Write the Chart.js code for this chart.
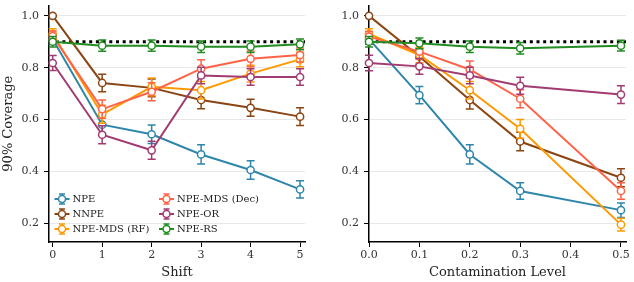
<!DOCTYPE html>
<html>
<head>
<meta charset="utf-8">
<script src="https://cdn.jsdelivr.net/npm/chart.js@4"></script>
<style>
  body { margin: 0; background: #fff; }
  #wrap { position: relative; width: 634px; height: 282px; }
  .box { position: absolute; top: 0; width: 317px; height: 282px; }
</style>
</head>
<body>
<div id="wrap">
  <div class="box" style="left:0"><canvas id="left" width="317" height="282"></canvas></div>
  <div class="box" style="left:317px"><canvas id="right" width="317" height="282"></canvas></div>
</div>
<script>
// --- data ---
const seriesNames = ["NPE", "NNPE", "NPE-MDS (RF)", "NPE-MDS (Dec)", "NPE-OR", "NPE-RS"];
const seriesColors = ["#2E86AB", "#8B4513", "#FF9900", "#FF6347", "#A23B72", "#228B22"];
const targetCoverage = 0.9;
const yTicks = [0.2, 0.4, 0.6, 0.8, 1.0];

// left panel: shift
const shiftLevels = [0, 1, 2, 3, 4, 5];
const shiftTicks = [0, 1, 2, 3, 4, 5];
const shiftNPE     = [0.91, 0.58, 0.543, 0.465, 0.405, 0.33];
const shiftNNPE    = [1.0, 0.741, 0.722, 0.675, 0.645, 0.611];
const shiftRF      = [0.93, 0.62, 0.726, 0.713, 0.777, 0.832];
const shiftDec     = [0.922, 0.64, 0.707, 0.796, 0.834, 0.849];
const shiftOR      = [0.818, 0.541, 0.481, 0.77, 0.764, 0.764];
const shiftRS      = [0.90, 0.885, 0.885, 0.881, 0.881, 0.89];
const shiftErrNPE  = [0.02, 0.033, 0.036, 0.037, 0.036, 0.033];
const shiftErrNNPE = [0.003, 0.034, 0.034, 0.034, 0.033, 0.034];
const shiftErrRF   = [0.02, 0.035, 0.034, 0.034, 0.032, 0.028];
const shiftErrDec  = [0.02, 0.035, 0.035, 0.035, 0.03, 0.027];
const shiftErrOR   = [0.029, 0.035, 0.035, 0.032, 0.032, 0.032];
const shiftErrRS   = [0.02, 0.022, 0.022, 0.022, 0.022, 0.021];

// right panel: contamination
const contamLevels = [0.0, 0.1, 0.2, 0.3, 0.5];
const contamTicks = [0.0, 0.1, 0.2, 0.3, 0.4, 0.5];
const contamNPE     = [0.91, 0.694, 0.465, 0.324, 0.25];
const contamNNPE    = [1.0, 0.843, 0.675, 0.515, 0.375];
const contamRF      = [0.93, 0.849, 0.713, 0.564, 0.194];
const contamDec     = [0.92, 0.862, 0.793, 0.68, 0.324];
const contamOR      = [0.818, 0.805, 0.77, 0.73, 0.696];
const contamRS      = [0.90, 0.894, 0.881, 0.875, 0.885];
const contamErrNPE  = [0.02, 0.033, 0.037, 0.032, 0.028];
const contamErrNNPE = [0.003, 0.03, 0.035, 0.036, 0.035];
const contamErrRF   = [0.02, 0.03, 0.034, 0.036, 0.025];
const contamErrDec  = [0.02, 0.029, 0.033, 0.035, 0.032];
const contamErrOR   = [0.03, 0.03, 0.032, 0.033, 0.034];
const contamErrRS   = [0.02, 0.021, 0.022, 0.022, 0.021];

const serif = "'DejaVu Serif', serif";

// error bars drawn under each series' markers
const errorBars = {
  id: 'errorBars',
  beforeDatasetDraw(chart, args) {
    const ds = chart.data.datasets[args.index];
    if (!ds.errors) return;
    const ctx = chart.ctx, x = chart.scales.x, y = chart.scales.y;
    ctx.save();
    ctx.strokeStyle = ds.borderColor;
    ctx.lineWidth = 1.5;
    ds.data.forEach((p, i) => {
      const e = ds.errors[i];
      const px = x.getPixelForValue(p.x);
      const y1 = y.getPixelForValue(p.y + e);
      const y2 = y.getPixelForValue(p.y - e);
      ctx.beginPath();
      ctx.moveTo(px, y1); ctx.lineTo(px, y2);
      ctx.moveTo(px - 4, y1); ctx.lineTo(px + 4, y1);
      ctx.moveTo(px - 4, y2); ctx.lineTo(px + 4, y2);
      ctx.stroke();
    });
    ctx.restore();
  }
};

// legend inside the left panel, two columns
const innerLegend = {
  id: 'innerLegend',
  afterDraw(chart) {
    if (!chart.options.plugins.innerLegend.show) return;
    const ctx = chart.ctx, a = chart.chartArea;
    const cols = [a.left + 13, a.left + 117.5];
    const rows = [a.bottom - 43, a.bottom - 28, a.bottom - 13];
    ctx.save();
    ctx.font = "10px " + serif;
    ctx.textBaseline = 'middle';
    seriesNames.forEach((name, i) => {
      const cx = cols[Math.floor(i / 3)], cy = rows[i % 3];
      const c = seriesColors[i];
      ctx.strokeStyle = c;
      ctx.lineWidth = 2;
      ctx.beginPath(); ctx.moveTo(cx - 7.5, cy); ctx.lineTo(cx + 7.5, cy); ctx.stroke();
      ctx.lineWidth = 1.5;
      ctx.beginPath();
      ctx.moveTo(cx, cy - 5); ctx.lineTo(cx, cy + 5);
      ctx.moveTo(cx - 3, cy - 5); ctx.lineTo(cx + 3, cy - 5);
      ctx.moveTo(cx - 3, cy + 5); ctx.lineTo(cx + 3, cy + 5);
      ctx.stroke();
      ctx.beginPath(); ctx.arc(cx, cy, 3.5, 0, Math.PI * 2);
      ctx.fillStyle = '#fff'; ctx.fill(); ctx.stroke();
      ctx.fillStyle = '#222';
      ctx.fillText(name, cx + 10.5, cy + 0.5);
    });
    ctx.restore();
  }
};

function makeChart(id, xs, xTicks, values, errors, xMin, xMax, xTitle, xFmt, yWidth, padRight, showLegend) {
  const datasets = [{
    data: [{x: xMin, y: targetCoverage}, {x: xMax, y: targetCoverage}],
    borderColor: '#000',
    borderWidth: 3,
    borderDash: [3, 3.7],
    pointRadius: 0,
    order: 10,
    clip: false
  }];
  values.forEach((vals, i) => {
    datasets.push({
      label: seriesNames[i],
      data: xs.map((x, j) => ({x: x, y: vals[j]})),
      errors: errors[i],
      borderColor: seriesColors[i],
      borderWidth: 2,
      pointRadius: 3.6,
      pointBorderWidth: 1.5,
      pointBackgroundColor: '#fff',
      pointBorderColor: seriesColors[i],
      order: 6 - i,
      clip: false
    });
  });
  return new Chart(document.getElementById(id), {
    type: 'line',
    data: { datasets },
    plugins: [errorBars, innerLegend],
    options: {
      responsive: false,
      animation: false,
      layout: { padding: { top: 3, right: padRight, left: 0, bottom: 0 } },
      plugins: { legend: { display: false }, tooltip: { enabled: false }, innerLegend: { show: showLegend } },
      scales: {
        x: {
          type: 'linear',
          min: xMin, max: xMax,
          afterBuildTicks: s => { s.ticks = xTicks.map(v => ({value: v})); },
          afterFit: s => { s.height = 40; s.paddingLeft = 0; s.paddingRight = 0; },
          ticks: {
            font: { family: serif, size: 11 }, color: '#333', padding: 2, maxRotation: 0,
            callback: v => xFmt === 'int' ? String(v) : v.toFixed(1)
          },
          grid: { drawOnChartArea: false, tickLength: 5, tickColor: '#000', tickWidth: 1 },
          border: { color: '#000', width: 1.5 },
          title: { display: true, text: xTitle, font: { family: serif, size: 13 }, color: '#222', padding: { top: 0, bottom: 2 } }
        },
        y: {
          min: 0.127, max: 1.04,
          afterBuildTicks: s => { s.ticks = yTicks.map(v => ({value: v})); },
          afterFit: s => { s.width = yWidth; s.paddingTop = 0; s.paddingBottom = 0; },
          ticks: { font: { family: serif, size: 11 }, color: '#333', padding: 5, callback: v => v.toFixed(1) },
          grid: { color: '#e8e8e8', lineWidth: 1, tickLength: 5, tickColor: '#000', tickWidth: 1 },
          border: { color: '#000', width: 1.5 },
          title: { display: showLegend, text: '90% Coverage', font: { family: serif, size: 13 }, color: '#222', padding: { top: 1, bottom: 0 } }
        }
      }
    }
  });
}

makeChart('left', shiftLevels, shiftTicks,
  [shiftNPE, shiftNNPE, shiftRF, shiftDec, shiftOR, shiftRS],
  [shiftErrNPE, shiftErrNNPE, shiftErrRF, shiftErrDec, shiftErrOR, shiftErrRS],
  -0.075, 5.1, 'Shift', 'int', 49, 12, true);

makeChart('right', contamLevels, contamTicks,
  [contamNPE, contamNNPE, contamRF, contamDec, contamOR, contamRS],
  [contamErrNPE, contamErrNNPE, contamErrRF, contamErrDec, contamErrOR, contamErrRS],
  0, 0.51, 'Contamination Level', 'dec', 52, 8, false);
</script>
</body>
</html>
